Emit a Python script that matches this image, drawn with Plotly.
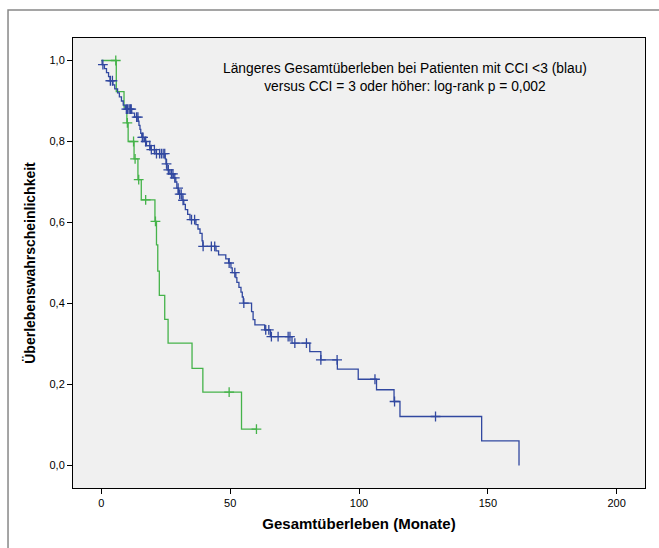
import numpy as np
import plotly.graph_objects as go

# ---- data ----
blue_times = [0.3, 1.2, 2.0, 2.8, 3.4, 4.5, 5.2, 6.3, 7.0, 7.8, 8.5, 9.3, 11.8, 12.9, 14.3, 14.6,
              15.0, 15.3, 15.7, 16.8, 17.5, 19.0, 20.8, 24.8, 25.1, 25.5, 26.6, 27.9, 28.9, 29.3,
              29.9, 31.3, 32.0, 32.6, 33.5, 34.4, 36.7, 37.5, 38.3, 39.1, 39.4, 44.5, 45.5, 48.3,
              49.4, 50.3, 50.8, 52.2, 52.6, 53.4, 54.2, 54.7, 55.1, 58.3, 58.9, 59.6, 63.4, 65.6,
              74.0, 80.9, 85.2, 91.6, 99.7, 106.8, 113.6, 115.9, 147.6, 162.1]
blue_surv = [0.99, 0.98, 0.97, 0.96, 0.95, 0.94, 0.93, 0.92, 0.91, 0.90, 0.89, 0.88, 0.87, 0.86,
             0.85, 0.84, 0.83, 0.82, 0.81, 0.80, 0.79, 0.78, 0.77, 0.757, 0.745, 0.73, 0.72, 0.71,
             0.70, 0.685, 0.67, 0.655, 0.645, 0.632, 0.62, 0.607, 0.595, 0.584, 0.573, 0.555,
             0.541, 0.53, 0.52, 0.51, 0.50, 0.488, 0.476, 0.464, 0.452, 0.44, 0.428, 0.416, 0.401,
             0.38, 0.36, 0.347, 0.335, 0.318, 0.302, 0.281, 0.261, 0.238, 0.213, 0.187, 0.158,
             0.121, 0.0606, 0.0]
blue_censored = [0.6, 3.5, 4.3, 9.7, 10.2, 10.8, 11.3, 11.6, 13.7, 14.2, 15.9, 16.2, 17.2, 18.8,
                 19.4, 20.6, 21.4, 22.6, 23.3, 24.0, 24.6, 25.3, 26.0, 27.2, 27.8, 28.5, 29.8,
                 30.4, 31.0, 31.7, 35.0, 36.2, 39.5, 42.7, 44.0, 49.6, 51.8, 55.3, 63.8, 65.0,
                 66.0, 68.6, 72.5, 73.2, 75.1, 79.6, 85.2, 91.5, 106.2, 113.8, 129.7]

green_times = [5.8, 8.8, 9.9, 10.4, 12.7, 14.2, 15.5, 20.8, 21.4, 21.9, 22.5, 24.6, 25.9, 35.2,
               39.4, 54.4]
green_surv = [0.923, 0.885, 0.846, 0.80, 0.757, 0.706, 0.656, 0.603, 0.545, 0.48, 0.42, 0.361,
              0.302, 0.240, 0.181, 0.090]
green_end = 60.2
green_censored = [5.6, 10.1, 12.5, 13.1, 14.5, 17.2, 21.0, 49.6, 60.2]

x_ticks = [0, 50, 100, 150, 200]
y_ticks = [0.0, 0.2, 0.4, 0.6, 0.8, 1.0]
y_tick_labels = ["0,0", "0,2", "0,4", "0,6", "0,8", "1,0"]

BLUE = "#3148a0"
GREEN = "#45b34a"


def step_value(times, surv, t):
    idx = np.searchsorted(np.array(times), t, side="right")
    return 1.0 if idx == 0 else surv[idx - 1]


def km_path(times, surv, end=None):
    xs = [0.0] + list(times)
    ys = [1.0] + list(surv)
    if end is not None and end > xs[-1]:
        xs.append(end)
        ys.append(ys[-1])
    return xs, ys


fig = go.Figure()

gx, gy = km_path(green_times, green_surv, green_end)
bx, by = km_path(blue_times, blue_surv)

fig.add_trace(go.Scatter(x=gx, y=gy, mode="lines", line=dict(color=GREEN, width=1.3, shape="hv"),
                         showlegend=False, hoverinfo="skip"))
fig.add_trace(go.Scatter(x=bx, y=by, mode="lines", line=dict(color=BLUE, width=1.3, shape="hv"),
                         showlegend=False, hoverinfo="skip"))

fig.add_trace(go.Scatter(
    x=green_censored, y=[step_value(green_times, green_surv, t) for t in green_censored],
    mode="markers", marker=dict(symbol="cross-thin", size=7, line=dict(color=GREEN, width=1.3)),
    showlegend=False, hoverinfo="skip"))
fig.add_trace(go.Scatter(
    x=blue_censored, y=[step_value(blue_times, blue_surv, t) for t in blue_censored],
    mode="markers", marker=dict(symbol="cross-thin", size=7, line=dict(color=BLUE, width=1.3)),
    showlegend=False, hoverinfo="skip"))

font_family = "Liberation Sans, Arial, sans-serif"

fig.update_layout(
    width=659, height=548,
    margin=dict(l=73, r=14, t=38, b=60),
    paper_bgcolor="white",
    plot_bgcolor="#f0f0f0",
    font=dict(family=font_family, size=11, color="black"),
    xaxis=dict(range=[-11, 211], tickvals=x_ticks, ticktext=[str(v) for v in x_ticks],
               showgrid=False, zeroline=False, showline=True, linecolor="black", linewidth=1,
               mirror=True, ticks="outside", ticklen=5, tickcolor="black",
               title=dict(text="<b>Gesamtüberleben (Monate)</b>", font=dict(size=15), standoff=10)),
    yaxis=dict(range=[-0.0556, 1.0556], tickvals=y_ticks, ticktext=y_tick_labels,
               showgrid=False, zeroline=False, showline=True, linecolor="black", linewidth=1,
               mirror=True, ticks="outside", ticklen=5, tickcolor="black",
               title=dict(text="<b>Überlebenswahrscheinlichkeit</b>", font=dict(size=14), standoff=10)),
    shapes=[dict(type="rect", xref="paper", yref="paper", x0=-0.1136, x1=1.04, y0=-0.17, y1=1.062,
                 line=dict(color="#888888", width=1.5), fillcolor="rgba(0,0,0,0)", layer="below")],
    annotations=[dict(xref="paper", yref="paper", x=0.58, y=0.912, xanchor="center", yanchor="middle",
                      text="Längeres Gesamtüberleben bei Patienten mit CCI <3 (blau)<br>versus CCI = 3 oder höher: log-rank p = 0,002",
                      showarrow=False, align="center", font=dict(size=13.8, color="black"))],
)

fig.write_html("out.html")
